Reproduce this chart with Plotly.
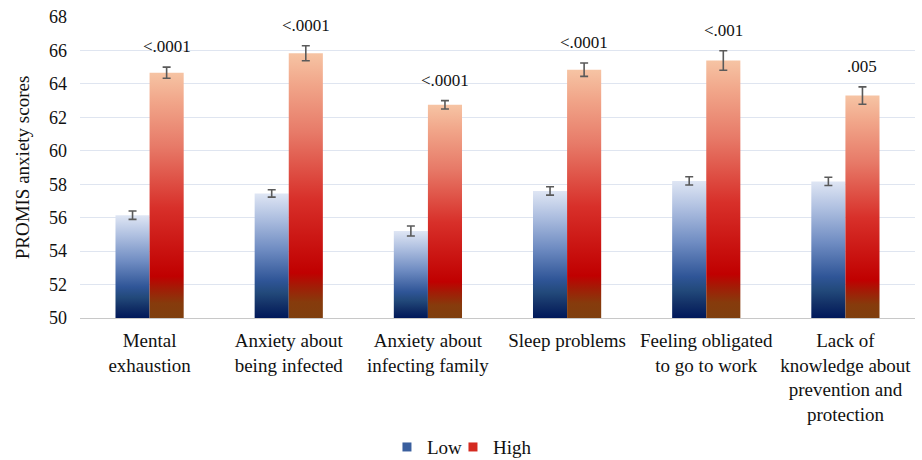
import plotly.graph_objects as go

categories = ["Mental<br>exhaustion", "Anxiety about<br>being infected", "Anxiety about<br>infecting family",
              "Sleep problems", "Feeling obligated<br>to go to work",
              "Lack of<br>knowledge about<br>prevention and<br>protection"]
low_values = [56.15, 57.45, 55.2, 57.6, 58.2, 58.17]
low_err = [0.25, 0.22, 0.3, 0.25, 0.25, 0.25]
high_values = [64.67, 65.83, 62.75, 64.85, 65.4, 63.3]
high_err = [0.33, 0.45, 0.25, 0.4, 0.58, 0.52]
p_values = ["<.0001", "<.0001", "<.0001", "<.0001", "<.001", ".005"]
series_names = ["Low", "High"]
y_base = 50

FONT = "Liberation Serif"
low_scale = [[0, "#00185a"], [0.1, "#122f66"], [0.2, "#22497a"], [0.3, "#2f5597"],
             [0.55, "#6f8cc2"], [0.8, "#aebfe0"], [1, "#dfe6f4"]]
high_scale = [[0, "#7f3f0f"], [0.06, "#863b0c"], [0.12, "#a21c06"], [0.17, "#c00000"],
              [0.45, "#d8302a"], [0.7, "#e77a68"], [0.88, "#f1a589"], [1, "#f6c4a4"]]

bar_w = 0.245
fig = go.Figure()

for s, (vals, errs, scale) in enumerate([(low_values, low_err, low_scale),
                                         (high_values, high_err, high_scale)]):
    centers = []
    for i, v in enumerate(vals):
        x0 = i - bar_w if s == 0 else i
        x1 = x0 + bar_w
        centers.append((x0 + x1) / 2)
        fig.add_trace(go.Scatter(
            x=[x0, x0, x1, x1, x0], y=[y_base, v, v, y_base, y_base],
            mode="lines", fill="toself", line=dict(width=0),
            fillgradient=dict(type="vertical", colorscale=scale),
            showlegend=False, hoverinfo="skip"))
    fig.add_trace(go.Scatter(
        x=centers, y=vals, mode="markers", marker=dict(opacity=0),
        error_y=dict(type="data", array=errs, color="#5a5a5a", thickness=1.6, width=4),
        showlegend=False, name=series_names[s]))
    if s == 1:
        for c, v, e, p in zip(centers, vals, errs, p_values):
            fig.add_annotation(x=c, y=v + e, text=p, showarrow=False, yanchor="bottom",
                               yshift=9, font=dict(family=FONT, size=17, color="#111"))

fig.add_trace(go.Scatter(x=[None], y=[None], mode="markers", name="Low", legend="legend",
                         marker=dict(symbol="square", size=9, color="#3a5f9e")))
fig.add_trace(go.Scatter(x=[None], y=[None], mode="markers", name="High", legend="legend2",
                         marker=dict(symbol="square", size=9, color="#d42a20")))

leg_common = dict(orientation="h", xanchor="left", yanchor="middle", xref="container",
                  yref="container", y=0.028, font=dict(family=FONT, size=19),
                  itemwidth=30, bgcolor="rgba(0,0,0,0)")

fig.update_layout(
    width=922, height=460,
    margin=dict(l=80, r=7, t=17, b=142),
    plot_bgcolor="white", paper_bgcolor="white",
    font=dict(family=FONT, size=17, color="#111"),
    showlegend=True,
    legend=dict(x=0.4197, **leg_common),
    legend2=dict(x=0.4913, **leg_common),
    xaxis=dict(range=[-0.5, 5.5], tickmode="array", tickvals=list(range(len(categories))),
               ticktext=categories, showgrid=False, zeroline=False, showline=True,
               linecolor="#c8c8c8", linewidth=1, ticks="", fixedrange=True, automargin=False,
               tickfont=dict(family=FONT, size=19), ticklabelstandoff=5),
    yaxis=dict(range=[50, 68], dtick=2, tick0=50, showgrid=True, gridcolor="#dfe5f0",
               zeroline=False, showline=False, ticks="", ticklabelstandoff=12, automargin=False,
               tickfont=dict(family=FONT, size=18),
               title=dict(text="PROMIS anxiety scores", font=dict(family=FONT, size=19), standoff=14)),
)

fig.write_html("out.html", post_script="document.body.style.margin='0';",
               config={"displayModeBar": False})
